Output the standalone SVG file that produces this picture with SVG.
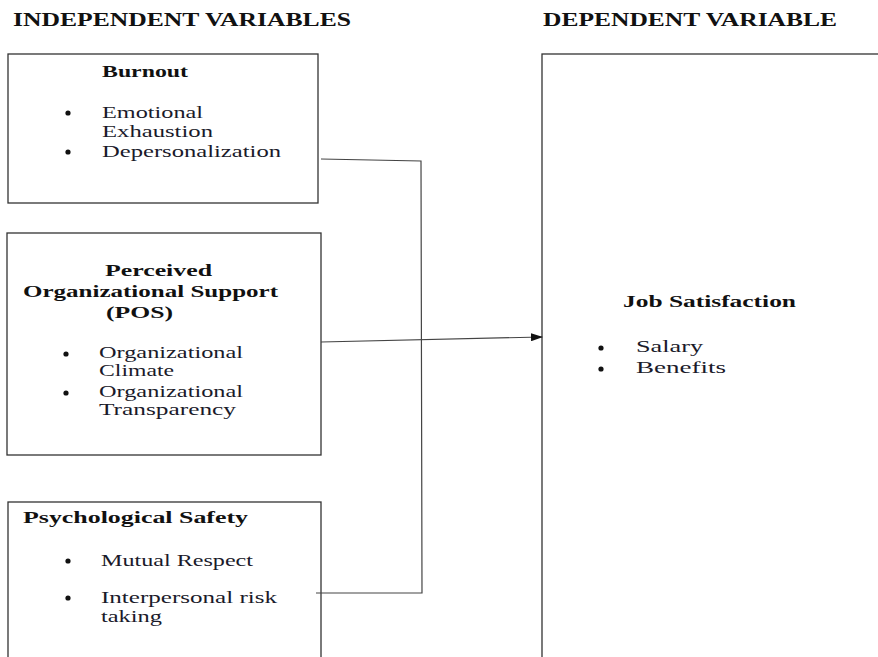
<svg xmlns="http://www.w3.org/2000/svg" width="878" height="657" viewBox="0 0 878 657">
  <style>
    .box { fill: #fff; stroke: #333; stroke-width: 1.3; }
    .head { font-family: "Liberation Serif", serif; font-weight: bold; font-size: 18px; fill: #111; }
    .title { font-family: "Liberation Serif", serif; font-weight: bold; font-size: 17px; fill: #111; }
    .item { font-family: "Liberation Serif", serif; font-size: 17px; fill: #1a1a2a; }
    .dot { fill: #111; }
    .wire { fill: none; stroke: #444; stroke-width: 1.2; }
  </style>
  <defs>
    <marker id="arrow" markerWidth="12" markerHeight="8" refX="11" refY="4" orient="auto" markerUnits="userSpaceOnUse">
      <path d="M0,0 L12,4 L0,8 Z" fill="#111"/>
    </marker>
  </defs>
  <rect width="878" height="657" fill="#fff"/>

  <!-- column headings -->
  <text class="head" x="13" y="26" textLength="338" lengthAdjust="spacingAndGlyphs">INDEPENDENT  VARIABLES</text>
  <text class="head" x="543" y="26" textLength="294" lengthAdjust="spacingAndGlyphs">DEPENDENT  VARIABLE</text>

  <g id="burnout">
    <rect class="box" x="8" y="54" width="310" height="149"/>
    <text class="title" x="102" y="77" textLength="86" lengthAdjust="spacingAndGlyphs">Burnout</text>
    <circle class="dot" cx="68" cy="113" r="2.6"/>
    <text class="item" x="102" y="118" textLength="101" lengthAdjust="spacingAndGlyphs">Emotional</text>
    <text class="item" x="102" y="137" textLength="111" lengthAdjust="spacingAndGlyphs">Exhaustion</text>
    <circle class="dot" cx="68" cy="152" r="2.6"/>
    <text class="item" x="102" y="157" textLength="179" lengthAdjust="spacingAndGlyphs">Depersonalization</text>
  </g>

  <g id="pos">
    <rect class="box" x="7" y="233" width="314" height="222"/>
    <text class="title" x="105" y="276" textLength="107" lengthAdjust="spacingAndGlyphs">Perceived</text>
    <text class="title" x="23" y="297" textLength="255" lengthAdjust="spacingAndGlyphs">Organizational  Support</text>
    <text class="title" x="106" y="318" textLength="67" lengthAdjust="spacingAndGlyphs">(POS)</text>
    <circle class="dot" cx="66" cy="354" r="2.6"/>
    <text class="item" x="99" y="358" textLength="144" lengthAdjust="spacingAndGlyphs">Organizational</text>
    <text class="item" x="99" y="376" textLength="75" lengthAdjust="spacingAndGlyphs">Climate</text>
    <circle class="dot" cx="66" cy="393" r="2.6"/>
    <text class="item" x="99" y="397" textLength="144" lengthAdjust="spacingAndGlyphs">Organizational</text>
    <text class="item" x="99" y="415" textLength="137" lengthAdjust="spacingAndGlyphs">Transparency</text>
  </g>

  <g id="psych-safety">
    <rect class="box" x="8" y="502" width="313" height="170"/>
    <text class="title" x="23" y="523" textLength="225" lengthAdjust="spacingAndGlyphs">Psychological  Safety</text>
    <circle class="dot" cx="68" cy="561" r="2.6"/>
    <text class="item" x="101" y="566" textLength="152" lengthAdjust="spacingAndGlyphs">Mutual Respect</text>
    <circle class="dot" cx="68" cy="598" r="2.6"/>
    <text class="item" x="101" y="603" textLength="176" lengthAdjust="spacingAndGlyphs">Interpersonal risk</text>
    <text class="item" x="101" y="622" textLength="61" lengthAdjust="spacingAndGlyphs">taking</text>
  </g>

  <g id="job-satisfaction">
    <rect class="box" x="542" y="54" width="350" height="620"/>
    <text class="title" x="623" y="307" textLength="173" lengthAdjust="spacingAndGlyphs">Job Satisfaction</text>
    <circle class="dot" cx="601" cy="348" r="2.6"/>
    <text class="item" x="636" y="352" textLength="67" lengthAdjust="spacingAndGlyphs">Salary</text>
    <circle class="dot" cx="601" cy="369" r="2.6"/>
    <text class="item" x="636" y="373" textLength="90" lengthAdjust="spacingAndGlyphs">Benefits</text>
  </g>

  <g id="connectors">
    <polyline class="wire" points="321,159 421,161 422,593 316,593"/>
    <line class="wire" x1="321" y1="342" x2="542" y2="337" marker-end="url(#arrow)"/>
  </g>
</svg>
